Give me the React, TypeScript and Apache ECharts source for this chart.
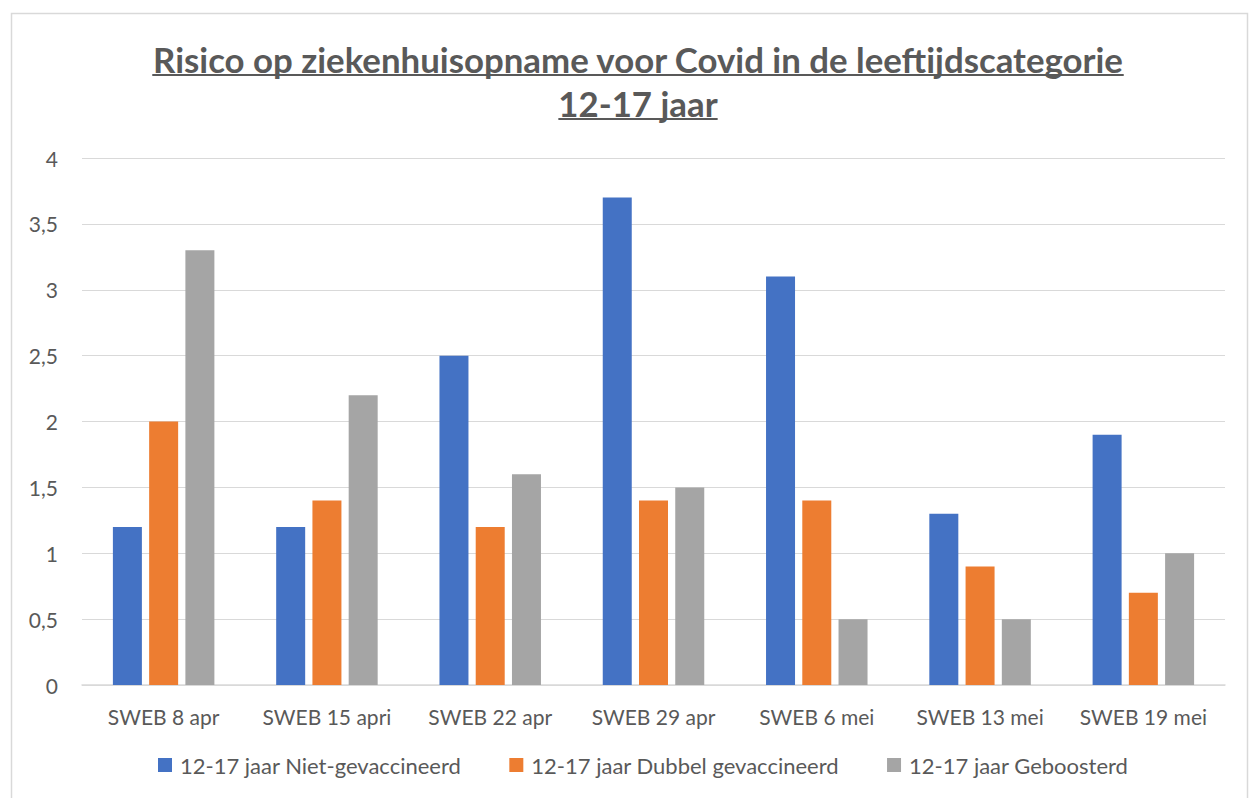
import React, { useEffect, useRef } from "react";
import * as echarts from "echarts";

const categories = ["SWEB 8 apr", "SWEB 15 apri", "SWEB 22 apr", "SWEB 29 apr", "SWEB 6 mei", "SWEB 13 mei", "SWEB 19 mei"];
const nietGevaccineerd = [1.2, 1.2, 2.5, 3.7, 3.1, 1.3, 1.9];
const dubbelGevaccineerd = [2.0, 1.4, 1.2, 1.4, 1.4, 0.9, 0.7];
const geboosterd = [3.3, 2.2, 1.6, 1.5, 0.5, 0.5, 1.0];
const seriesNames = ["12-17 jaar Niet-gevaccineerd", "12-17 jaar Dubbel gevaccineerd", "12-17 jaar Geboosterd"];
const titleLines = ["Risico op ziekenhuisopname voor Covid in de leeftijdscategorie", "12-17 jaar"];

const FONT = "Lato";
const TEXT = "#595959";
const TITLE_SIZE = 34.8;

function measure(text: string, font: string): number {
  const c = document.createElement("canvas");
  const ctx = c.getContext("2d")!;
  ctx.font = font;
  return ctx.measureText(text).width;
}

export default function App() {
  const ref = useRef<HTMLDivElement>(null);
  useEffect(() => {
    if (!ref.current) return;
    const chart = echarts.init(ref.current, undefined, { renderer: "svg" });
    const cx = 638;
    const titleY = [59, 103];
    const graphics: any[] = [
      {
        type: "rect",
        shape: { x: 11.5, y: 13.5, width: 1236, height: 800 },
        style: { fill: "none", stroke: "#d9d9d9", lineWidth: 1.5 },
        silent: true,
        z: -1,
      },
    ];
    titleLines.forEach((t, i) => {
      const w = measure(t, `bold ${TITLE_SIZE}px Lato`);
      graphics.push({
        type: "text",
        x: cx,
        y: titleY[i],
        style: {
          text: t,
          fill: TEXT,
          fontSize: TITLE_SIZE,
          fontWeight: "bold",
          fontFamily: FONT,
          align: "center",
          verticalAlign: "middle",
        },
      });
      graphics.push({
        type: "line",
        shape: { x1: cx - w / 2, y1: titleY[i] + 16, x2: cx + w / 2, y2: titleY[i] + 16 },
        style: { stroke: TEXT, lineWidth: 2.2 },
      });
    });
    chart.setOption({
      animation: false,
      backgroundColor: "#ffffff",
      textStyle: { fontFamily: FONT },
      graphic: graphics,
      grid: { left: 82, right: 27, top: 158, bottom: 113, containLabel: false },
      legend: {
        data: seriesNames,
        bottom: 17,
        left: 153,
        itemWidth: 14,
        itemHeight: 14,
        itemGap: 48,
        icon: "rect",
        textStyle: { color: TEXT, fontSize: 22, fontFamily: FONT, padding: [0, 0, 0, 3] },
      },
      xAxis: {
        type: "category",
        data: categories,
        axisLine: { lineStyle: { color: "#d9d9d9", width: 1.5 } },
        axisTick: { show: false },
        axisLabel: { color: TEXT, fontSize: 21, margin: 21, fontFamily: FONT, interval: 0 },
      },
      yAxis: {
        type: "value",
        min: 0,
        max: 4,
        interval: 0.5,
        axisLabel: {
          color: TEXT,
          fontSize: 21,
          margin: 24,
          fontFamily: FONT,
          formatter: (v: number) => String(v).replace(".", ","),
        },
        splitLine: { lineStyle: { color: "#d9d9d9", width: 1.2 } },
        axisLine: { show: false },
        axisTick: { show: false },
      },
      series: [
        { name: seriesNames[0], type: "bar", data: nietGevaccineerd, barWidth: 29, barGap: "25%", itemStyle: { color: "#4472C4" } },
        { name: seriesNames[1], type: "bar", data: dubbelGevaccineerd, barWidth: 29, barGap: "25%", itemStyle: { color: "#ED7D31" } },
        { name: seriesNames[2], type: "bar", data: geboosterd, barWidth: 29, barGap: "25%", itemStyle: { color: "#A5A5A5" } },
      ],
    });
    return () => chart.dispose();
  }, []);
  return (
    <div
      ref={ref}
      style={{ position: "fixed", left: 0, top: 0, width: 1252, height: 798, background: "#fff" }}
    />
  );
}
